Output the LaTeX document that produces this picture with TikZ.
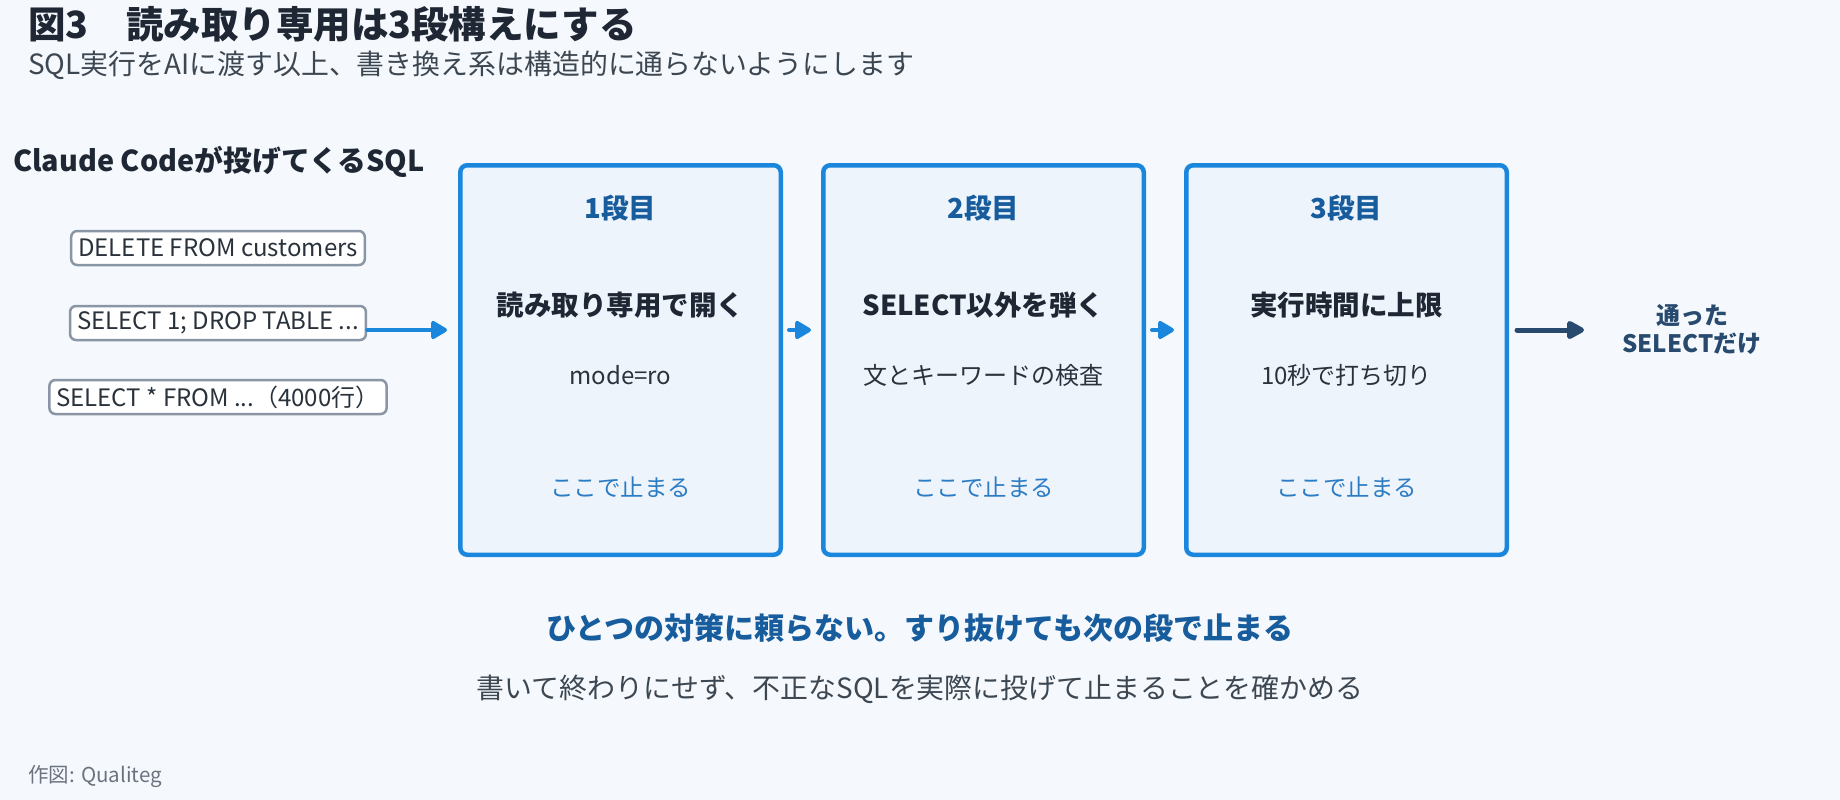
\documentclass[tikz,border=0pt]{standalone}
\usepackage{fontspec}
\setmainfont{Noto Sans CJK JP}
\usetikzlibrary{arrows.meta,positioning}

\definecolor{bg}{HTML}{F5F9FD}
\definecolor{ink}{HTML}{1E2733}
\definecolor{subink}{HTML}{3D4752}
\definecolor{boxink}{HTML}{2A323C}
\definecolor{sqlgrey}{HTML}{8A95A5}
\definecolor{stageblue}{HTML}{1A86DC}
\definecolor{stagefill}{HTML}{EDF4FC}
\definecolor{headblue}{HTML}{175C9C}
\definecolor{stopblue}{HTML}{2C7CC3}
\definecolor{navy}{HTML}{274A6E}
\definecolor{footgrey}{HTML}{6B7380}

\newcommand{\pxfont}[1]{\fontsize{#1}{#1}\selectfont}

\tikzset{
  sqlbox/.style={draw=sqlgrey, line width=2.5pt, fill=white, rounded corners=6pt,
    inner xsep=7pt, inner ysep=0pt, minimum height=34pt, text=boxink, font=\pxfont{24}},
  stagebox/.style={draw=stageblue, line width=4.5pt, fill=stagefill, rounded corners=7pt,
    minimum width=320.5pt, minimum height=389.5pt, inner sep=0pt},
  stagehead/.style={inner sep=0pt, text=headblue, font=\pxfont{27.5}\bfseries},
  stagemain/.style={inner sep=0pt, text=ink, font=\pxfont{27.5}\bfseries},
  stagedetail/.style={inner sep=0pt, text=boxink, font=\pxfont{24}},
  stagestop/.style={inner sep=0pt, text=stopblue, font=\pxfont{23.5}},
  flowarrow/.style={draw=stageblue, line width=4pt, line cap=round,
    -{Triangle[length=18pt,width=20pt,round]}, stageblue},
  passarrow/.style={draw=navy, line width=5pt, line cap=round,
    -{Triangle[length=20pt,width=20pt,round]}, navy}
}

\begin{document}
\begin{tikzpicture}[x=1pt,y=-1pt]
\fill[bg] (0,0) rectangle (1840,800);
\useasboundingbox (0,0) rectangle (1840,800);

% title
\node[anchor=west, inner sep=0pt, font=\pxfont{37.5}\bfseries, text=ink] (title) at (28,24) {図3　読み取り専用は3段構えにする};
\node[anchor=west, inner sep=0pt, font=\pxfont{27.9}, text=subink] (subtitle) at (28,65) {SQL実行をAIに渡す以上、書き換え系は構造的に通らないようにします};

% incoming SQL
\node[anchor=west, inner sep=0pt, font=\pxfont{28.8}\bfseries, text=ink] (inhead) at (13,162) {Claude Codeが投げてくるSQL};
\node[sqlbox] (sql1) at (218,248) {DELETE FROM customers};
\node[sqlbox] (sql2) at (218,323) {SELECT 1; DROP TABLE ...};
\node[sqlbox] (sql3) at (218,397) {SELECT * FROM ...（4000行）};

% stages
\node[stagebox] (s1) at (620.5,360) {};
\node[stagebox] (s2) at (983.5,360) {};
\node[stagebox] (s3) at (1346.5,360) {};

\node[stagehead] (h1) at (s1 |- 0,208) {1段目};
\node[stagemain] (m1) at (s1 |- 0,305) {読み取り専用で開く};
\node[stagedetail] (d1) at (s1 |- 0,375) {mode=ro};
\node[stagestop] (t1) at (s1 |- 0,487) {ここで止まる};

\node[stagehead] (h2) at (s2 |- 0,208) {2段目};
\node[stagemain] (m2) at (s2 |- 0,305) {SELECT以外を弾く};
\node[stagedetail] (d2) at (s2 |- 0,375) {文とキーワードの検査};
\node[stagestop] (t2) at (s2 |- 0,487) {ここで止まる};

\node[stagehead] (h3) at (s3 |- 0,208) {3段目};
\node[stagemain] (m3) at (s3 |- 0,305) {実行時間に上限};
\node[stagedetail] (d3) at (s3 |- 0,375) {10秒で打ち切り};
\node[stagestop] (t3) at (s3 |- 0,487) {ここで止まる};

% result
\node[align=center, inner sep=0pt, font={\fontsize{24}{28}\selectfont\bfseries}, text=navy] (passed) at (1692,329) {通った\\SELECTだけ};

% arrows
\coordinate (flow) at (0,330);
\coordinate (gate) at (1584,330);
\draw[flowarrow] (sql2.east |- flow) -- ([xshift=-11pt]s1.west |- flow);
\draw[flowarrow] ([xshift=6pt]s1.east |- flow) -- ([xshift=-10pt]s2.west |- flow);
\draw[flowarrow] ([xshift=6pt]s2.east |- flow) -- ([xshift=-10pt]s3.west |- flow);
\draw[passarrow] ([xshift=8pt]s3.east |- flow) -- (gate);

% bottom notes
\node[inner sep=0pt, font=\pxfont{30}\bfseries, text=headblue] (lesson) at (920,628) {ひとつの対策に頼らない。すり抜けても次の段で止まる};
\node[inner sep=0pt, font=\pxfont{27.9}, text=subink] (check) at (920,689) {書いて終わりにせず、不正なSQLを実際に投げて止まることを確かめる};
\node[anchor=west, inner sep=0pt, font=\pxfont{20.5}, text=footgrey] (credit) at (28,776) {作図: Qualiteg};
\end{tikzpicture}
\end{document}
